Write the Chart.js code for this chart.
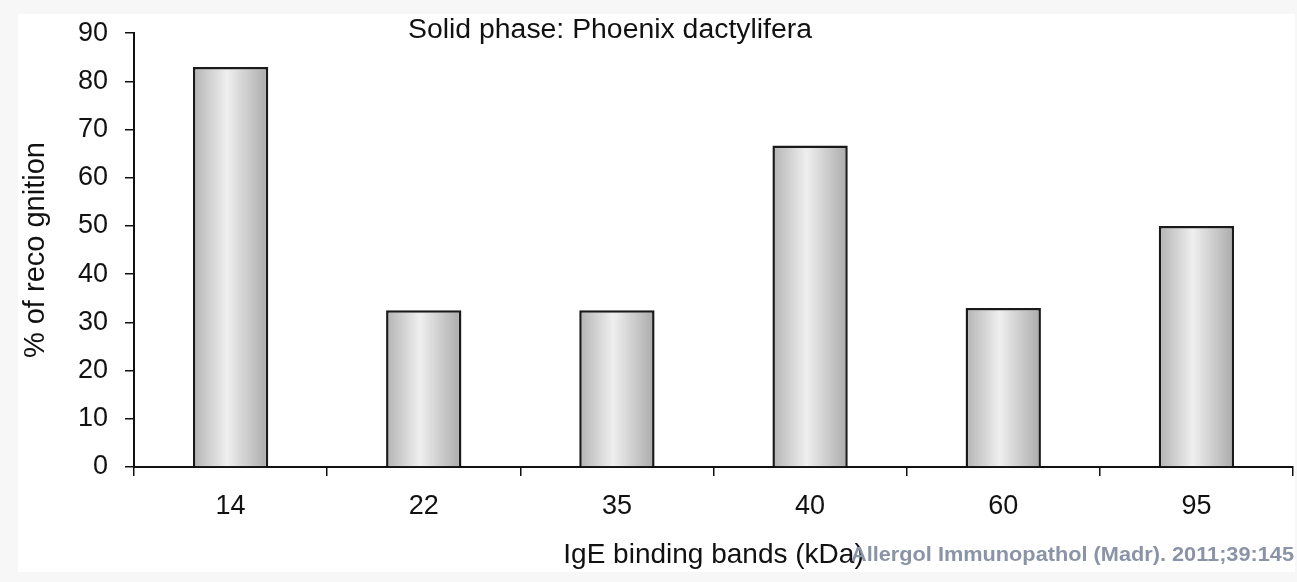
<!DOCTYPE html>
<html>
<head>
<meta charset="utf-8">
<script src="https://cdn.jsdelivr.net/npm/chart.js@4"></script>
<style>
	html, body { margin: 0; padding: 0; background: #f7f7f7; }
	#wrap { width: 1297px; height: 582px; }
</style>
</head>
<body>
<div id="wrap"><canvas id="bandsChart" width="1297" height="582"></canvas></div>
<script>
const bands = ['14', '22', '35', '40', '60', '95'];
const recognition = [83, 32.5, 32.5, 66.7, 33, 50];
const yTicks = [0, 10, 20, 30, 40, 50, 60, 70, 80, 90];

const titleText = 'Solid phase: Phoenix dactylifera';
const sourceText = 'Allergol Immunopathol (Madr). 2011;39:145';
const font = 'Arial, "Liberation Sans", sans-serif';
const barPct = 0.39;

// grey page frame with white plot paper, plus the two loose texts
const decor = {
	id: 'decor',
	beforeDraw(chart) {
		const c = chart.ctx;
		c.save();
		c.fillStyle = '#f7f7f7';
		c.fillRect(0, 0, chart.width, chart.height);
		c.fillStyle = '#ffffff';
		c.fillRect(18, 14, 1277, 558);
		c.restore();
	},
	afterDraw(chart) {
		const c = chart.ctx;
		c.save();
		c.fillStyle = '#111';
		c.font = '27px ' + font;
		c.textBaseline = 'middle';
		c.textAlign = 'left';
		// squeeze/stretch to the reference width
		let w = c.measureText(titleText).width;
		c.translate(408, 31);
		c.scale(404 / w, 1);
		c.fillText(titleText, 0, 0);
		c.setTransform(1, 0, 0, 1, 0, 0);
		c.fillStyle = '#8a94a6';
		c.font = 'bold 21px ' + font;
		c.textBaseline = 'alphabetic';
		w = c.measureText(sourceText).width;
		c.translate(851, 561);
		c.scale(443 / w, 1);
		c.fillText(sourceText, 0, 0);
		c.restore();
	}
};

function barGradient(context) {
	const chart = context.chart;
	const area = chart.chartArea;
	if (!area) return '#d8d8d8';
	const x = chart.scales.x.getPixelForValue(context.dataIndex);
	const w = (area.right - area.left) / bands.length * barPct;
	const g = chart.ctx.createLinearGradient(x - w / 2, 0, x + w / 2, 0);
	g.addColorStop(0, '#b3b3b3');
	g.addColorStop(0.45, '#efefef');
	g.addColorStop(1, '#aaaaaa');
	return g;
}

const ctx = document.getElementById('bandsChart').getContext('2d');
const bandsChart = new Chart(ctx, {
	type: 'bar',
	data: {
		labels: bands,
		datasets: [{
			label: '% of recognition',
			data: recognition,
			backgroundColor: barGradient,
			borderColor: '#1a1a1a',
			borderWidth: 2.5,
			borderSkipped: 'bottom',
			barPercentage: barPct,
			categoryPercentage: 1
		}]
	},
	options: {
		responsive: false,
		animation: false,
		layout: { padding: { left: 18, top: 23, right: 4, bottom: 10 } },
		plugins: {
			legend: { display: false },
			tooltip: { enabled: false }
		},
		scales: {
			x: {
				grid: { drawOnChartArea: false, tickLength: 9, color: '#111', lineWidth: 1.5 },
				border: { color: '#111', width: 2 },
				ticks: { color: '#111', font: { size: 27, family: font }, padding: 14 },
				title: { display: true, text: 'IgE binding bands (kDa)', color: '#111', font: { size: 28, family: font }, padding: { top: 0, bottom: 0 } },
				afterFit(scale) { scale.height = 105; }
			},
			y: {
				min: 0,
				max: 90,
				afterBuildTicks(scale) { scale.ticks = yTicks.map(v => ({ value: v })); },
				grid: { drawOnChartArea: false, tickLength: 9, color: '#111', lineWidth: 1.5 },
				border: { color: '#111', width: 2 },
				ticks: { color: '#111', font: { size: 27, family: font }, padding: 17 },
				title: { display: true, text: '% of reco gnition', color: '#111', font: { size: 29, family: font }, padding: 1 },
				afterFit(scale) { scale.width = 116; }
			}
		}
	},
	plugins: [decor]
});
</script>
</body>
</html>
